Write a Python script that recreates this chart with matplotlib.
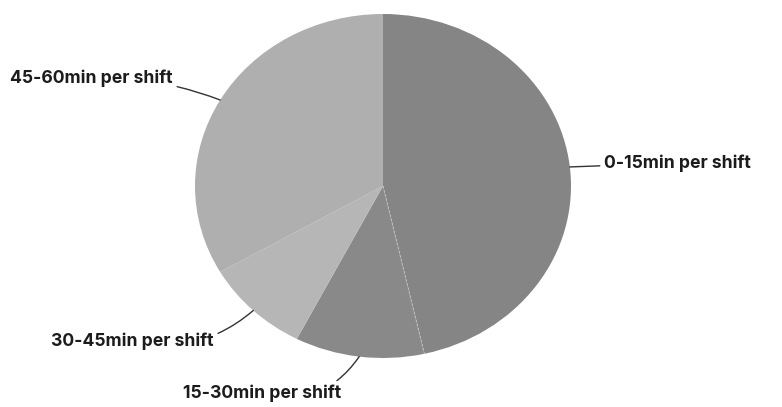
import numpy as np
import matplotlib
matplotlib.use("Agg")
import matplotlib.pyplot as plt

# Time spent per shift
labels = ["0-15min per shift", "15-30min per shift", "30-45min per shift", "45-60min per shift"]
shares = [46, 11, 9, 33]
colors = ["#858585", "#898989", "#b6b6b6", "#afafaf"]

W, H = 782, 407
fig = plt.figure(figsize=(W / 100, H / 100), dpi=100)
ax = fig.add_axes([195 / W, (H - 358) / H, 376 / W, 344 / H])

wedges, _ = ax.pie(shares, colors=colors, startangle=90, counterclock=False,
                   wedgeprops=dict(linewidth=0))
ax.set_aspect("auto")
ax.set_xlim(-1, 1)
ax.set_ylim(-1, 1)
ax.axis("off")

# thin light seam between the two darker slices
t = np.deg2rad(wedges[0].theta1)
ax.plot([0, np.cos(t)], [0, np.sin(t)], color="#c8c8c8", lw=0.6, ls=(0, (3, 2)))

# label positions (figure pixels, y from bottom), alignment, connector curvature
label_pos = [(604, H - 163, "left", 0.0),
             (341, H - 393, "right", 0.35),
             (214, H - 341, "right", 0.25),
             (173, H - 78, "right", -0.1)]

for w, lab, (tx, ty, ha, rad) in zip(wedges, labels, label_pos):
    mid = np.deg2rad((w.theta1 + w.theta2) / 2)
    x, y = np.cos(mid), np.sin(mid)
    ax.annotate(lab, xy=(x, y), xycoords="data",
                xytext=(tx, ty), textcoords="figure pixels",
                ha=ha, va="center", fontsize=12.7, fontweight="bold",
                family=["Inter", "DejaVu Sans"], color="#1c1c1c",
                arrowprops=dict(arrowstyle="-", color="#333333", lw=1,
                                shrinkA=1, shrinkB=0,
                                connectionstyle=f"arc3,rad={rad}"))

fig.savefig("out.png", dpi=100)
